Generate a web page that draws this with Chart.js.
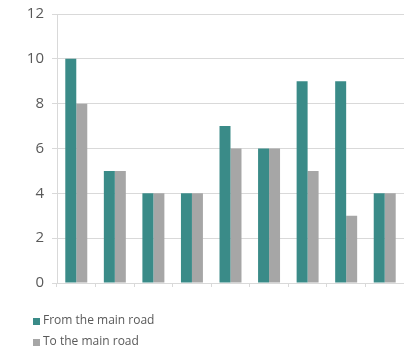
<!doctype html>
<html>

<head>
  <title>Main road bar chart</title>
  <script src="https://cdn.jsdelivr.net/npm/chart.js@4.4.1/dist/chart.umd.min.js"></script>
  <style>
    html, body {
      margin: 0;
      padding: 0;
      background: #fff;
    }
    .chart {
      width: 404px;
      height: 354px;
    }
  </style>
</head>

<body>
  <div class="chart">
    <canvas id="myChart"></canvas>
  </div>

  <script>
    var categories = ['1', '2', '3', '4', '5', '6', '7', '8', '9'];
    var fromMainRoad = [10, 5, 4, 4, 7, 6, 9, 9, 4];
    var toMainRoad = [8, 5, 4, 4, 6, 6, 5, 3, 4];
    var yTicks = [0, 2, 4, 6, 8, 10, 12];

    var textColor = '#595959';
    var gridColor = '#d9d9d9';

    // legend stacked one item per row, under the plot
    var stackedLegend = {
      id: 'stackedLegend',
      afterDraw: function(chart) {
        var ctx = chart.ctx;
        ctx.save();
        ctx.font = '12px "Open Sans", sans-serif';
        ctx.textBaseline = 'middle';
        ctx.textAlign = 'left';
        chart.data.datasets.forEach(function(ds, i) {
          var y = 321 + i * 21;
          ctx.fillStyle = ds.backgroundColor;
          ctx.fillRect(33, y - 3, 7, 7);
          ctx.fillStyle = textColor;
          ctx.fillText(ds.label, 43, y);
        });
        ctx.restore();
      }
    };

    var config = {
      type: 'bar',
      data: {
        labels: categories,
        datasets: [{
          label: 'From the main road',
          data: fromMainRoad,
          backgroundColor: '#3a8b88'
        }, {
          label: 'To the main road',
          data: toMainRoad,
          backgroundColor: '#a6a6a6'
        }]
      },
      options: {
        responsive: true,
        maintainAspectRatio: false,
        animation: false,
        datasets: {
          bar: {
            categoryPercentage: 0.57,
            barPercentage: 1
          }
        },
        layout: {
          padding: {top: 14, right: 0, left: 0, bottom: 0}
        },
        scales: {
          x: {
            grid: {
              drawOnChartArea: false,
              drawTicks: true,
              tickLength: 4,
              color: gridColor
            },
            border: {color: gridColor},
            ticks: {display: false},
            afterFit: function(scale) {
              scale.height = 71;
            }
          },
          y: {
            min: 0,
            max: 12,
            afterBuildTicks: function(scale) {
              scale.ticks = yTicks.map(function(v) { return {value: v}; });
            },
            grid: {
              color: gridColor,
              tickLength: 5
            },
            border: {color: gridColor},
            ticks: {
              color: textColor,
              padding: 8,
              font: {family: '"Open Sans", sans-serif', size: 15}
            },
            afterFit: function(scale) {
              scale.width = 57;
              scale.paddingTop = 0;
              scale.paddingBottom = 0;
            }
          }
        },
        plugins: {
          legend: {display: false},
          tooltip: {enabled: false}
        }
      },
      plugins: [stackedLegend]
    };

    window.onload = function() {
      var ctx = document.getElementById('myChart').getContext('2d');
      window.myChart = new Chart(ctx, config);
    };
  </script>
</body>

</html>
